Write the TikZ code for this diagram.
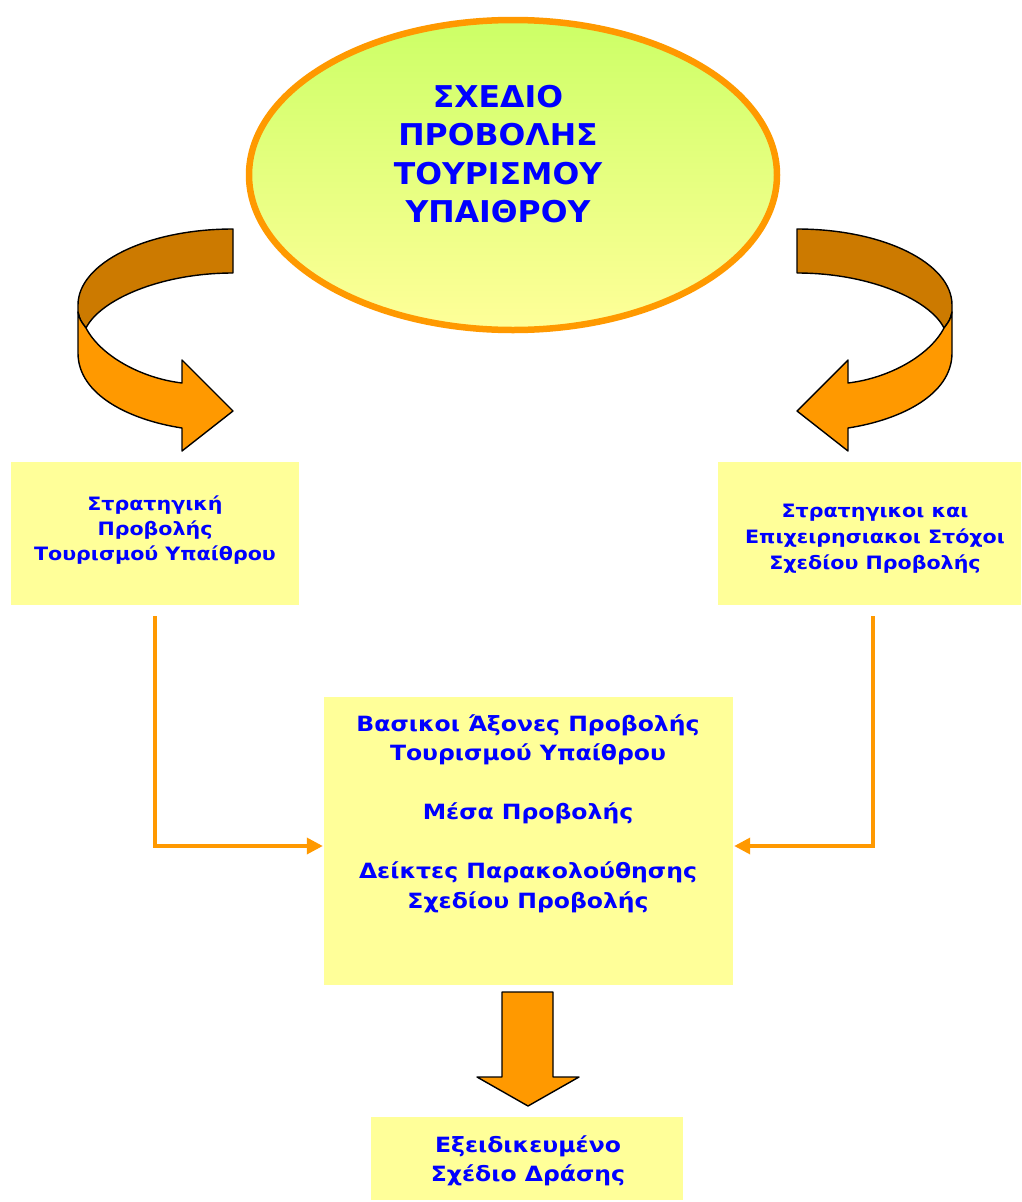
\documentclass[tikz,border=0pt]{standalone}
\usepackage{fontspec}
\setmainfont{DejaVu Sans}
\newfontfamily\wfont{DejaVu Sans}[FakeStretch=1.12]
\newfontfamily\efont{DejaVu Sans}[FakeStretch=1.05]
\usetikzlibrary{arrows.meta,shapes.geometric}
\definecolor{orng}{HTML}{FF9900}
\definecolor{dorng}{HTML}{CC7A00}
\definecolor{boxy}{HTML}{FFFF99}
\definecolor{ellg}{HTML}{CCFF66}
\definecolor{txtb}{HTML}{0000FF}
\begin{document}
\begin{tikzpicture}[x=1pt,y=-1pt,
  box/.style={fill=boxy, draw=none, rectangle, inner sep=0pt},
  lbl/.style={text=txtb, align=center, inner sep=0pt, anchor=north},
  conn/.style={draw=orng, line width=3.5pt, -{Triangle[length=16pt,width=16pt]}},
  ribbon/.style={draw=black, line width=1.4pt, line join=round}]
\useasboundingbox (0,0) rectangle (1021,1202);

% ellipse
\node[ellipse, draw=orng, line width=6.5pt, minimum width=528pt, minimum height=310pt,
      top color=ellg, bottom color=boxy, inner sep=0pt] (ell) at (513,175) {};
\node[lbl, font=\fontsize{30}{38.5}\efont\bfseries] (etxt) at (498,85)
  {ΣΧΕΔΙΟ\\ΠΡΟΒΟΛΗΣ\\ΤΟΥΡΙΣΜΟΥ\\ΥΠΑΙΘΡΟΥ};

% boxes
\node[box, minimum width=288pt, minimum height=143pt] (lbox) at (155,533.5) {};
\node[box, minimum width=303pt, minimum height=143pt] (rbox) at (869.5,533.5) {};
\node[box, minimum width=409pt, minimum height=288pt] (cbox) at (528.5,841) {};
\node[box, minimum width=312pt, minimum height=83pt] (bbox) at (527,1158.5) {};

\node[lbl, font=\fontsize{18.4}{25}\wfont\bfseries] (ltxt) at (155,496)
  {Στρατηγική\\Προβολής\\Τουρισμού Υπαίθρου};
\node[lbl, font=\fontsize{18.4}{26}\wfont\bfseries] (rtxt) at (875,503.5)
  {Στρατηγικοι και\\Επιχειρησιακοι Στόχοι\\Σχεδίου Προβολής};
\node[lbl, font=\fontsize{21}{29.5}\wfont\bfseries] (ctxt) at (528,714)
  {Βασικοι Άξονες Προβολής\\Τουρισμού Υπαίθρου\\[29.5pt]Μέσα Προβολής\\[29.5pt]Δείκτες Παρακολούθησης\\Σχεδίου Προβολής};
\node[lbl, font=\fontsize{21}{29}\wfont\bfseries] (btxt) at (528,1135)
  {Εξειδικευμένο\\Σχέδιο Δράσης};

% connectors
\coordinate (l1) at (155,616);
\coordinate (l2) at (155,846);
\coordinate (r1) at (873,616);
\coordinate (r2) at (873,846);
\draw[conn] (l1) -- (l2) -- ([xshift=-1pt]cbox.west |- l2);
\draw[conn] (r1) -- (r2) -- ([xshift=1pt]cbox.east |- r2);

% down arrow
\filldraw[ribbon, fill=orng] (502,992) -- (553,992) -- (553,1077) -- (579,1077)
  -- (528,1106) -- (477,1077) -- (502,1077) -- cycle;

% curved ribbon arrows
\foreach \sx/\dx in {1/0, -1/1030} {
\begin{scope}[xshift=\dx pt, xscale=\sx]
\filldraw[ribbon, fill=dorng] (233,229) .. controls (147,229) and (78,263) .. (78,305)
  -- (78,312) .. controls (80,320) .. (86,328)
  .. controls (100,300) and (160,273) .. (233,273) -- cycle;
\filldraw[ribbon, fill=orng] (78,312) -- (78,353) .. controls (78,395) and (130,420) .. (182,428)
  -- (182,451) -- (233,411) -- (182,360) -- (182,383)
  .. controls (140,378) and (100,355) .. (86,328)
  .. controls (80,320) .. (78,312) -- cycle;
\end{scope}
}
\end{tikzpicture}
\end{document}
